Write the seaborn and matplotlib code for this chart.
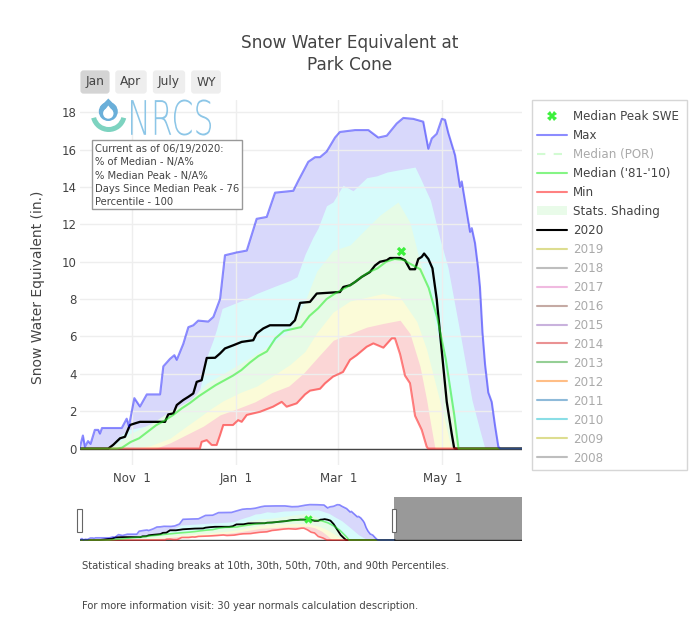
import numpy as np
import pandas as pd
import matplotlib
matplotlib.use("Agg")
import matplotlib.pyplot as plt
import seaborn as sns
from matplotlib.lines import Line2D
from matplotlib.patches import Patch, Rectangle, Circle, Polygon, Wedge, PathPatch
from matplotlib.transforms import Affine2D, blended_transform_factory
from matplotlib.textpath import TextPath
from matplotlib.font_manager import FontProperties

# ---------------- data (day 0 = 2019-10-01) ----------------
start_date = "2019-10-01"
tick_dates = ["2019-11-01", "2020-01-01", "2020-03-01", "2020-05-01"]
tick_labels = ["Nov  1", "Jan  1", "Mar  1", "May  1"]
y_ticks = [0, 2, 4, 6, 8, 10, 12, 14, 16, 18]

max_day = [0, 2, 3.2, 5, 6.5, 9, 11, 12, 13.2, 24.8, 27.7, 29, 32.2, 35.5, 39.5, 47.3, 49.2, 53.1, 55.7, 57.1,
           60.9, 63.9, 66.8, 69.7, 75.6, 78.6, 82.5, 85.4, 92.3, 98.2, 104, 109.9, 114.8, 125.5, 128.5, 134.3,
           138.3, 141.2, 145.1, 150, 152.9, 161.8, 169.6, 175.4, 180.4, 186.2, 190.1, 196, 201.8, 204.8, 206.8,
           209.7, 212.7, 214.6, 216.5, 220.5, 223.4, 224.4, 227.3, 229.3, 230.3, 232.2, 234.1, 235.1, 236.6,
           238.1, 240, 242, 244, 245.9, 247, 260]
max_swe = [0, 0.7, 0.1, 0.4, 0.25, 1.0, 1.0, 0.8, 1.1, 1.1, 1.6, 1.2, 2.7, 2.25, 2.9, 2.9, 4.4, 4.8, 5.0, 4.75,
           5.6, 6.5, 6.6, 6.85, 6.8, 7.05, 8.0, 10.35, 10.5, 10.6, 12.3, 12.4, 13.7, 13.8, 14.35, 15.35,
           15.6, 15.6, 15.9, 16.65, 16.95, 17.05, 17.05, 16.65, 16.75, 17.4, 17.7, 17.65, 17.5, 16.05, 16.6,
           16.85, 17.65, 17.6, 16.9, 15.7, 14.0, 14.3, 12.7, 11.6, 11.8, 11.0, 9.6, 8.65, 6.2,
           4.5, 3.0, 2.5, 1.2, 0.1, 0, 0]

p90_day = [0, 11, 17, 22.6, 28.5, 38.5, 48, 58, 66.6, 70.7, 74.7, 78.4, 80.5, 83.7, 96, 104, 113.6, 123.6,
           127.7, 132.4, 137, 140, 145, 148.8, 154.7, 160.6, 168.6, 174.5, 180.4, 186.2, 197, 200, 206, 211.7,
           216.3, 223.4, 230.4, 235, 238, 260]
p90_swe = [0, 0, 0.1, 0.6, 1.0, 1.2, 1.55, 2.1, 2.6, 3.2, 4.9, 5.8, 6.4, 7.5, 7.95, 8.3, 8.65, 9.0,
           9.2, 10.4, 11.3, 11.8, 13.0, 13.2, 14.1, 13.8, 14.5, 14.6, 14.8, 14.9, 15.07, 14.5, 13.3, 11.2,
           9.7, 6.2, 2.6, 1.0, 0, 0]

p70_day = [0, 17.9, 22.6, 29.6, 41.4, 53.1, 64.9, 74.7, 84.2, 94.3, 104.2, 113.6, 123.6, 132.4, 139.3, 148.8,
           158.8, 168.6, 176.4, 187, 194, 199.9, 204, 207.5, 213.4, 219.2, 222.1, 223.4, 260]
p70_swe = [0, 0, 0.3, 0.8, 1.3, 2.0, 2.6, 3.5, 4.0, 4.55, 5.1, 5.65, 6.35, 7.9, 9.5, 10.6,
           10.9, 11.8, 12.5, 13.2, 12.1, 10.0, 8.9, 7.3, 4.6, 2.0, 0.2, 0, 0]

p30_day = [0, 29.6, 41.4, 53.1, 62.9, 70.7, 76.6, 84.2, 94.3, 104.2, 113.6, 123.6, 132.4, 139.3, 148.8, 158.8,
           168.6, 178.2, 188.2, 198, 203.8, 209.7, 213.6, 217.5, 218.7, 260]
p30_swe = [0, 0, 0.15, 0.55, 1.2, 1.7, 2.1, 2.55, 3.0, 3.35, 3.9, 4.5, 5.2, 6.2, 7.3, 7.9,
           8.1, 8.3, 8.1, 6.8, 5.3, 3.2, 1.8, 0.3, 0, 0]

p10_day = [0, 44.3, 53.1, 62.9, 72.7, 82.5, 93.1, 103, 113, 122.9, 131.7, 140, 149, 158.8, 168.6, 178.4,
           188.2, 194, 199.9, 203.8, 205.8, 208.7, 260]
p10_swe = [0, 0, 0.3, 0.75, 1.2, 1.8, 2.15, 2.5, 3.0, 3.35, 4.05, 4.9, 5.8, 6.15, 6.5, 6.7,
           6.87, 6.16, 4.4, 2.6, 1.5, 0, 0]

med_day = [0, 22, 25, 30, 35, 40, 45, 50, 55, 60, 65, 70, 75, 80, 85, 90, 95, 100, 105, 110, 115, 120, 125,
           130, 135, 140, 145, 150, 155, 160, 165, 170, 175, 180, 185, 190, 195, 200, 205, 210, 215, 220,
           222.5, 260]
med_swe = [0, 0, 0.05, 0.35, 0.55, 0.9, 1.25, 1.5, 1.8, 2.15, 2.45, 2.8, 3.1, 3.4, 3.65, 3.9, 4.2, 4.6, 4.95,
           5.2, 5.9, 6.3, 6.4, 6.5, 7.1, 7.5, 8.0, 8.3, 8.55, 8.8, 9.15, 9.45, 9.65, 10.0, 10.15, 10.1, 9.85,
           9.6, 8.6, 7.0, 4.8, 1.8, 0, 0]

min_day = [0, 70.7, 71.7, 74.7, 77.6, 80.5, 82.5, 84.4, 90.1, 93.1, 95.2, 98.2, 106, 113.6, 118.7, 121.6,
           127.5, 132.4, 135.3, 141.2, 144.1, 148.8, 154.7, 158.8, 162.7, 168.6, 172.5, 178.4, 183.3, 185.2,
           188.2, 191.1, 194, 197, 200.9, 203.8, 204.6, 260]
min_swe = [0, 0, 0.36, 0.45, 0.19, 0.19, 0.72, 1.26, 1.26, 1.52, 1.43, 1.8, 1.97, 2.24, 2.5, 2.24,
           2.42, 2.9, 3.1, 3.2, 3.49, 3.85, 4.1, 4.75, 5.0, 5.45, 5.63, 5.4, 5.9, 5.9,
           5.05, 3.9, 3.5, 1.75, 1.0, 0.1, 0, 0]

y2020_day = [0, 16.9, 19.8, 23.8, 26.7, 29.6, 32.6, 35.5, 50.2, 52.1, 55.1, 57.1, 60.9, 63.9, 66.8, 68.8, 71.7,
             74.7, 79.6, 82.5, 85.4, 90.3, 95.2, 102, 104, 107.9, 111.8, 123.6, 126.5, 129.5, 135.3, 139.3,
             152.9, 154.9, 158.8, 161.8, 165.7, 170.5, 173.5, 176.4, 180.4, 182.3, 188.2, 191.1, 194, 197,
             198.9, 200.9, 202.3, 204.8, 207.2, 209.7, 212.7, 215.6, 218.5, 219.9, 220.5, 260]
y2020_swe = [0, 0, 0.2, 0.55, 0.63, 1.26, 1.35, 1.43, 1.43, 1.83, 1.88, 2.33, 2.6, 2.77, 2.95, 3.57, 3.66,
             4.85, 4.86, 5.09, 5.36, 5.53, 5.71, 5.8, 6.16, 6.43, 6.6, 6.6, 6.87, 7.8, 7.85, 8.3,
             8.38, 8.65, 8.74, 8.92, 9.19, 9.45, 9.8, 10.0, 10.08, 10.2, 10.2, 10.08, 9.6, 9.6,
             10.15, 10.26, 10.44, 10.15, 9.65, 8.0, 5.2, 2.5, 0.8, 0.05, 0, 0]

peak_day = [188.6]
peak_swe = [10.6]

legend_labels = ["Median Peak SWE", "Max", "Median (POR)", "Median ('81-'10)", "Min", "Stats. Shading", "2020",
                 "2019", "2018", "2017", "2016", "2015", "2014", "2013", "2012", "2011", "2010", "2009", "2008"]
year_colors = ["#bcbd22", "#7f7f7f", "#e377c2", "#8c564b", "#9467bd", "#d62728", "#2ca02c",
               "#ff7f0e", "#1f77b4", "#17becf", "#bcbd22", "#7f7f7f"]

info_lines = ["Current as of 06/19/2020:", "% of Median - N/A%", "% Median Peak - N/A%",
              "Days Since Median Peak - 76", "Percentile - 100"]
buttons = ["Jan", "Apr", "July", "WY"]

# ---------------- style ----------------
sns.set_theme(style="white")
plt.rcParams["font.family"] = ["DejaVu Sans"]
TXT = "#444444"
C_MAX, C_MED, C_MIN = "#0000ff", "#22ee22", "#ff1a1a"
F_MAX, F_90, F_70, F_30, F_10 = "#d8d8fb", "#d7fbfb", "#e6fbe6", "#fbfbd8", "#fbd6d6"

fig = plt.figure(figsize=(7.0, 6.22), dpi=100)
px = Affine2D().scale(1 / 700, -1 / 622).translate(0, 1) + fig.transFigure

start = pd.Timestamp(start_date)
tick_days = [(pd.Timestamp(d) - start).days for d in tick_dates]
x_end = 259.6
wy_end = 365


def draw_series(a, lw):
    for d, v, c in [(max_day, max_swe, F_MAX), (p90_day, p90_swe, F_90), (p70_day, p70_swe, F_70),
                    (p30_day, p30_swe, F_30), (p10_day, p10_swe, F_10), (min_day, min_swe, "white")]:
        a.fill_between(d, 0, v, color=c, lw=0, zorder=1)
    a.axhline(0, color=TXT, lw=1, zorder=2.05)
    sns.lineplot(x=y2020_day, y=y2020_swe, ax=a, color="black", lw=lw * 1.1, estimator=None, sort=False,
                 legend=False, zorder=2.2)
    sns.lineplot(x=min_day, y=min_swe, ax=a, color=C_MIN, alpha=0.55, lw=lw, estimator=None, sort=False,
                 legend=False, zorder=2.3)
    sns.lineplot(x=med_day, y=med_swe, ax=a, color=C_MED, alpha=0.55, lw=lw, estimator=None, sort=False,
                 legend=False, zorder=2.4)
    sns.lineplot(x=max_day, y=max_swe, ax=a, color=C_MAX, alpha=0.45, lw=lw, estimator=None, sort=False,
                 legend=False, zorder=2.5)
    sns.scatterplot(x=peak_day, y=peak_swe, ax=a, marker="X", color="#3cf03c", s=lw * 30, linewidth=0,
                    legend=False, zorder=3)


# ---------------- main axes ----------------
ax = fig.add_axes([79.5 / 700, 1 - 465 / 622, 442.2 / 700, 365 / 622])
draw_series(ax, 1.5)
ax.set_xlim(0, x_end)
ax.set_ylim(-0.88, 18.66)
ax.set_xticks(tick_days)
ax.set_xticklabels(tick_labels)
ax.set_yticks(y_ticks)
ax.grid(True, color="#eeeeee", lw=1)
ax.set_axisbelow("line")
ax.tick_params(length=0, labelsize=8.5, colors=TXT)
ax.tick_params(axis="x", pad=5)
ax.tick_params(axis="y", pad=2)
ax.set_xlabel("")
ax.set_ylabel("")
for s in ax.spines.values():
    s.set_visible(False)

# ---------------- range slider ----------------
ax2 = fig.add_axes([79.5 / 700, 1 - 541 / 622, 442.2 / 700, 44 / 622])
draw_series(ax2, 1.2)
ax2.set_xlim(0, wy_end)
ax2.set_ylim(-0.5, 21.5)
ax2.set_xticks([])
ax2.set_yticks([])
ax2.set_xlabel("")
ax2.set_ylabel("")
for s in ax2.spines.values():
    s.set_visible(False)
ax2.axvspan(x_end, wy_end, color="black", alpha=0.4, lw=0, zorder=10)
bt = blended_transform_factory(ax2.transData, ax2.transAxes)
hw = 3.6
for hx in (0, x_end):
    ax2.add_patch(Rectangle((hx - hw / 2, 0.2), hw, 0.53, transform=bt, fc="white", ec="#666666",
                            lw=0.8, clip_on=False, zorder=11))

# ---------------- texts ----------------
fig.text(350, 54, "Snow Water Equivalent at\nPark Cone", transform=px, ha="center", va="center",
         fontsize=12.2, color=TXT, linespacing=1.3)
fig.text(38, 287, "Snow Water Equivalent (in.)", transform=px, ha="center", va="center", rotation=90,
         fontsize=10, color=TXT)

btn_x = [95, 131, 169, 206]
for lab, bx in zip(buttons, btn_x):
    fc = "#d4d4d4" if lab == "Jan" else "#eeeeee"
    fig.text(bx, 82, lab, transform=px, ha="center", va="center", fontsize=8.8, color=TXT,
             bbox=dict(boxstyle="round,pad=0.42,rounding_size=0.25", fc=fc, ec="none"))

# info box
fig.add_artist(Rectangle((91.7, 140), 150.6, 69, transform=px, fc="white", ec="#999999", lw=1))
for i, line in enumerate(info_lines):
    fig.text(95, 149.3 + i * 13.1, line, transform=px, ha="left", va="center", fontsize=7.2, color=TXT)

# footer
fig.text(82, 566, "Statistical shading breaks at 10th, 30th, 50th, 70th, and 90th Percentiles.",
         transform=px, ha="left", va="center", fontsize=7.2, color=TXT)
fig.text(82, 606, "For more information visit: 30 year normals calculation description.",
         transform=px, ha="left", va="center", fontsize=7.2, color=TXT)

# NRCS logo
fig.add_artist(Wedge((108.7, 114), 18, 14, 166, width=5, transform=px, fc="#7dd3c0", ec="none"))
fig.add_artist(Circle((108.3, 111.5), 9.5, transform=px, fc="#6aafd9", ec="none"))
fig.add_artist(Polygon([(108.3, 98.5), (99.6, 107.5), (117.0, 107.5)], closed=True, transform=px,
                       fc="#6aafd9", ec="none"))
fig.add_artist(Circle((108.3, 113.5), 5.2, transform=px, fc="white", ec="none"))
fig.add_artist(Polygon([(108.3, 105.5), (103.5, 111.8), (113.1, 111.8)], closed=True, transform=px,
                       fc="white", ec="none"))
tp = TextPath((0, 0), "NRCS", size=100, prop=FontProperties(family="DejaVu Sans", weight="light"))
bb = tp.get_extents()
tr = Affine2D().translate(-bb.x0, -bb.y0).scale(80 / bb.width, -36 / bb.height).translate(131, 135.5) + px
fig.add_artist(PathPatch(tp, transform=tr, fc="#8cc6e7", ec="none"))

# ---------------- legend ----------------
handles = [
    Line2D([], [], marker="X", color="#3cf03c", ls="none", markersize=7, markeredgewidth=0),
    Line2D([], [], color=C_MAX, alpha=0.45, lw=1.5),
    Line2D([], [], color=C_MED, alpha=0.2, lw=1.5, ls=(0, (4, 4))),
    Line2D([], [], color=C_MED, alpha=0.55, lw=1.5),
    Line2D([], [], color=C_MIN, alpha=0.55, lw=1.5),
    Patch(facecolor="#e9fbe9", edgecolor="none"),
    Line2D([], [], color="black", lw=1.5),
] + [Line2D([], [], color=c, alpha=0.5, lw=1.5) for c in year_colors]
text_colors = [TXT, TXT, "#aaaaaa", TXT, TXT, TXT, TXT] + ["#aaaaaa"] * len(year_colors)
leg = fig.legend(handles, legend_labels, loc="upper left", bbox_to_anchor=(537 / 700, 1 - 110.0 / 622),
                 frameon=False, fontsize=8.6, handlelength=2.5, handletextpad=0.5, labelspacing=0.5,
                 borderpad=0, borderaxespad=0)
for t, c in zip(leg.get_texts(), text_colors):
    t.set_color(c)
fig.add_artist(Rectangle((531.7, 100), 155, 370, transform=px, fill=False, ec="#d6d6d6", lw=1))

fig.savefig("out.png", dpi=100)
